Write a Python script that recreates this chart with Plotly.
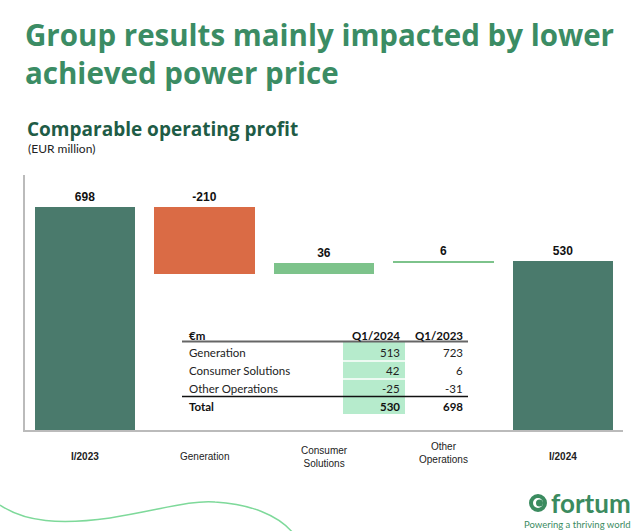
import plotly.graph_objects as go

# ---------------- data ----------------
categories = ["I/2023", "Generation", "Consumer<br>Solutions", "Other<br>Operations", "I/2024"]
changes = [698, -210, 36, 6, 530]
kinds = ["total", "delta", "delta", "delta", "total"]

table_header = ["€m", "Q1/2024", "Q1/2023"]
table_rows = ["Generation", "Consumer Solutions", "Other Operations"]
q1_2024 = [513, 42, -25]
q1_2023 = [723, 6, -31]
total_label = "Total"
total_2024 = 530
total_2023 = 698

# ---------------- geometry helpers ----------------
W, H = 640, 531
L, R, T, B = 25, 17, 175, 101
PW, PH = W - L - R, H - T - B


def px(x):
    return (x - L) / PW


def py(y):
    return (H - B - y) / PH


DARK = "#4A7A6C"
ORANGE = "#DA6B45"
LIGHT = "#7DC38B"
TGREEN = "#B6EBCC"

# waterfall bases computed from the data
bases, heights, colors = [], [], []
running = 0
for k, v in zip(kinds, changes):
    if k == "total":
        bases.append(0)
        heights.append(v)
        colors.append(DARK)
        running = v
    else:
        new = running + v
        bases.append(min(running, new))
        heights.append(abs(v))
        colors.append(ORANGE if v < 0 else LIGHT)
        running = new

xs = list(range(len(categories)))

fig = go.Figure()
fig.add_trace(go.Bar(
    x=xs, y=heights, base=bases,
    marker=dict(color=colors, line=dict(width=0)),
    width=0.84,
    text=[str(v) for v in changes],
    textposition="outside",
    textfont=dict(family="Liberation Sans, Arial", size=12, color="#111"),
    texttemplate="<b>%{text}</b>",
    cliponaxis=False,
    hoverinfo="skip",
))

annotations = []
shapes = []

# category labels
label_y = [456, 456, 457, 453, 456]
for i, (c, yy) in enumerate(zip(categories, label_y)):
    bold = kinds[i] == "total"
    annotations.append(dict(
        x=i, xref="x", y=py(yy), yref="paper",
        text=f"<b>{c}</b>" if bold else c,
        showarrow=False, xanchor="center", yanchor="middle",
        font=dict(family="Liberation Sans, Arial", size=10, color="#222"),
    ))

# titles
HF = "Open Sans"
annotations.append(dict(
    x=px(23), y=py(12), xref="paper", yref="paper", xanchor="left", yanchor="top",
    text="<b>Group results mainly impacted by lower<br>achieved power price</b>",
    showarrow=False, align="left",
    font=dict(family=HF, size=29.5, color="#3B8C64"),
))
annotations.append(dict(
    x=px(25), y=py(129), xref="paper", yref="paper", xanchor="left", yanchor="middle",
    text="<b>Comparable operating profit</b>", showarrow=False,
    font=dict(family=HF, size=19, color="#1F5C46"),
))
annotations.append(dict(
    x=px(26), y=py(149), xref="paper", yref="paper", xanchor="left", yanchor="middle",
    text="(EUR million)", showarrow=False,
    font=dict(family="Lato", size=12, color="#222"),
))

# ---------------- table ----------------
TF = "Lato"
tab_left, tab_right = 182, 468
col1_right, col2_right = 402, 465
green_l, green_r = 343, 405
header_y = 335
row_ys = [352, 370, 388]
total_y = 406

shapes.append(dict(type="rect", xref="paper", yref="paper",
                   x0=px(green_l), x1=px(green_r), y0=py(341), y1=py(414),
                   fillcolor=TGREEN, line=dict(width=0), layer="above"))
for yy in (361, 379):
    shapes.append(dict(type="line", xref="paper", yref="paper",
                       x0=px(green_l), x1=px(green_r), y0=py(yy), y1=py(yy),
                       line=dict(color="white", width=1.5), layer="above"))
shapes.append(dict(type="line", xref="paper", yref="paper",
                   x0=px(tab_left), x1=px(tab_right), y0=py(341.5), y1=py(341.5),
                   line=dict(color="#666", width=2), layer="above"))
shapes.append(dict(type="line", xref="paper", yref="paper",
                   x0=px(tab_left), x1=px(tab_right), y0=py(396.5), y1=py(396.5),
                   line=dict(color="#111", width=1.5), layer="above"))


def tcell(x, y, text, anchor, bold=False):
    annotations.append(dict(
        x=px(x), y=py(y), xref="paper", yref="paper", xanchor=anchor, yanchor="middle",
        text=f"<b>{text}</b>" if bold else text, showarrow=False,
        font=dict(family=TF, size=11.5, color="#222" if not bold else "#111"),
    ))


tcell(187, header_y, table_header[0], "left", True)
tcell(col1_right, header_y, table_header[1], "right", True)
tcell(col2_right, header_y, table_header[2], "right", True)
for name, a, b, yy in zip(table_rows, q1_2024, q1_2023, row_ys):
    tcell(187, yy, name, "left")
    tcell(col1_right, yy, str(a), "right")
    tcell(col2_right, yy, str(b), "right")
tcell(187, total_y, total_label, "left", True)
tcell(col1_right, total_y, str(total_2024), "right", True)
tcell(col2_right, total_y, str(total_2023), "right", True)

# ---------------- decorative curve ----------------
pts = [(0, 505), (25, 522), (60, 525), (110, 518), (160, 510), (190, 500), (215, 502),
       (250, 504), (278, 515), (293, 533)]
p = [f"{px(a):.4f},{py(b):.4f}" for a, b in pts]
path = f"M {p[0]} C {p[1]} {p[2]} {p[3]} C {p[4]} {p[5]} {p[6]} C {p[7]} {p[8]} {p[9]}"
shapes.append(dict(type="path", xref="paper", yref="paper", path=path,
                   line=dict(color="#7ED99A", width=1.5)))

# ---------------- logo ----------------
LOGO = "#3B8B5F"
shapes.append(dict(type="circle", xref="paper", yref="paper",
                   x0=px(531), x1=px(545), y0=py(496), y1=py(510),
                   line=dict(color=LOGO, width=4), fillcolor="rgba(0,0,0,0)"))
shapes.append(dict(type="circle", xref="paper", yref="paper",
                   x0=px(536), x1=px(543), y0=py(499.5), y1=py(506.5),
                   line=dict(width=0), fillcolor=LOGO))
annotations.append(dict(
    x=px(633), y=py(503), xref="paper", yref="paper", xanchor="right", yanchor="middle",
    text="<b>fortum</b>", showarrow=False,
    font=dict(family="Lato", size=26, color=LOGO),
))
annotations.append(dict(
    x=px(633), y=py(524), xref="paper", yref="paper", xanchor="right", yanchor="middle",
    text="Powering a thriving world", showarrow=False,
    font=dict(family="Lato", size=9.5, color=LOGO),
))

fig.update_layout(
    width=W, height=H,
    margin=dict(l=L, r=R, t=T, b=B),
    paper_bgcolor="white", plot_bgcolor="white",
    showlegend=False,
    bargap=0,
    xaxis=dict(range=[-0.5, 4.5], showticklabels=False, showgrid=False, zeroline=False,
               showline=True, linecolor="#BBBBBB", linewidth=1.5, ticks="", fixedrange=True),
    yaxis=dict(range=[0, 798], showticklabels=False, showgrid=False, zeroline=False,
               showline=True, linecolor="#BBBBBB", linewidth=1.5, ticks="", fixedrange=True),
    annotations=annotations,
    shapes=shapes,
)

fig.write_html(
    "out.html",
    config={"displayModeBar": False},
    post_script="document.body.style.margin='0';document.body.style.overflow='hidden';",
)
